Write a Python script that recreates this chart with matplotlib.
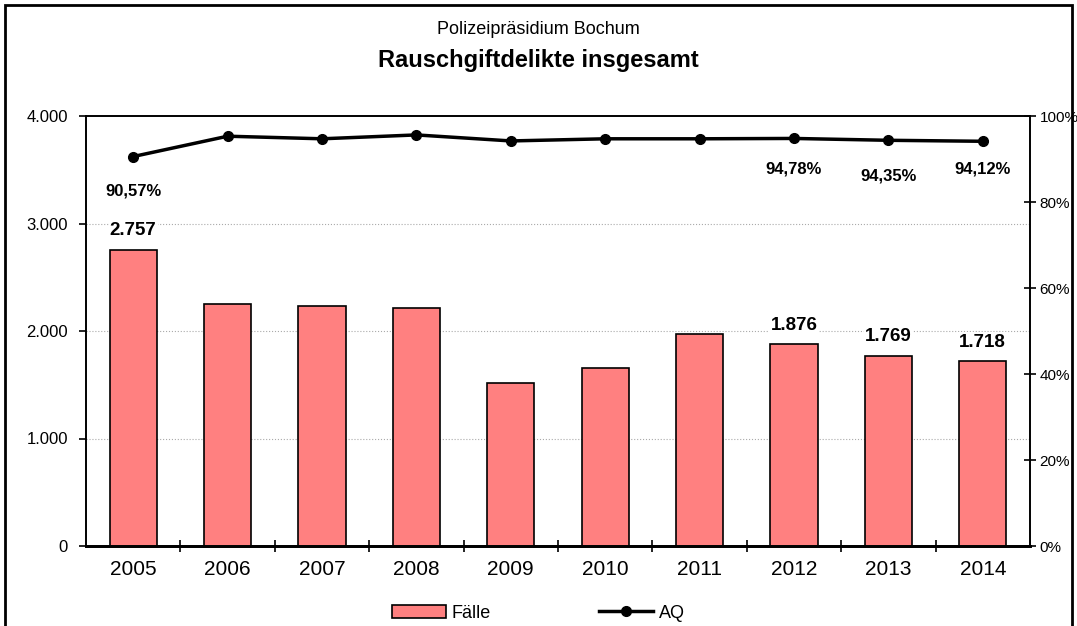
import matplotlib.pyplot as plt
import numpy as np
from matplotlib.patches import Rectangle
from matplotlib.lines import Line2D
from matplotlib.patches import Patch

plt.rcParams['font.family'] = ['Liberation Sans', 'DejaVu Sans']

years = ['2005', '2006', '2007', '2008', '2009', '2010', '2011', '2012', '2013', '2014']
faelle = [2757, 2251, 2233, 2214, 1516, 1656, 1972, 1876, 1769, 1718]
aq = [90.57, 95.3, 94.7, 95.6, 94.2, 94.7, 94.7, 94.78, 94.35, 94.12]

# only some points carry labels in the original
aq_labels = {0: '90,57%', 7: '94,78%', 8: '94,35%', 9: '94,12%'}
faelle_labels = {0: '2.757', 7: '1.876', 8: '1.769', 9: '1.718'}

fig = plt.figure(figsize=(10.77, 6.26), dpi=100)
ax = fig.add_axes([86 / 1077, 80 / 626, 944 / 1077, 430 / 626])
ax2 = ax.twinx()

x = np.arange(len(years))
ax.bar(x, faelle, width=0.5, color='#FF8080', edgecolor='black', linewidth=1.2, zorder=3)
ax.set_xlim(-0.5, len(years) - 0.5)
ax.set_ylim(0, 4000)
ax.set_yticks([0, 1000, 2000, 3000, 4000])
ax.set_yticklabels(['0', '1.000', '2.000', '3.000', '4.000'], fontsize=12)
for yv in [1000, 2000, 3000]:
    ax.axhline(yv, color='#aaaaaa', linestyle=':', linewidth=0.8, zorder=1)

ax.set_xticks(x)
ax.set_xticklabels(years, fontsize=15)
ax.tick_params(axis='x', length=0, pad=10)
ax.set_xticks(np.arange(0.5, len(years) - 0.5, 1), minor=True)
ax.tick_params(axis='x', which='minor', length=8, direction='inout', width=1.2)
ax.tick_params(axis='y', length=5, width=1.2, direction='out', pad=8)
for s in ax.spines.values():
    s.set_linewidth(1.2)
ax.spines['bottom'].set_linewidth(2)

ax2.plot(x, aq, color='black', linewidth=2.5, marker='o', markersize=7, zorder=4)
ax2.set_ylim(0, 100)
ax2.set_yticks([0, 20, 40, 60, 80, 100])
ax2.set_yticklabels(['0%', '20%', '40%', '60%', '80%', '100%'], fontsize=11)
ax2.tick_params(axis='y', length=8, width=1.2, direction='inout', pad=3)
for s in ax2.spines.values():
    s.set_linewidth(1.2)
ax2.spines['bottom'].set_linewidth(2)

aq_offsets = {0: -8.0, 7: -7.0, 8: -8.3, 9: -6.5}
for i, lab in aq_labels.items():
    ax2.text(x[i], aq[i] + aq_offsets[i], lab, ha='center', va='center',
             fontsize=12, fontweight='bold', bbox=dict(facecolor='white', edgecolor='none', pad=1))

for i, lab in faelle_labels.items():
    ax.text(x[i], faelle[i] + 100, lab, ha='center', va='bottom',
            fontsize=13.5, fontweight='bold', zorder=5,
            bbox=dict(facecolor='white', edgecolor='none', pad=1))

fig.text(0.5, 1 - 30 / 626, 'Polizeipräsidium Bochum', ha='center', va='center', fontsize=13)
fig.text(0.5, 1 - 60 / 626, 'Rauschgiftdelikte insgesamt', ha='center', va='center',
         fontsize=17, fontweight='bold')

handles = [Patch(facecolor='#FF8080', edgecolor='black', linewidth=1.2, label='Fälle'),
           Line2D([0], [0], color='black', linewidth=2.5, marker='o', markersize=7, label='AQ')]
fig.legend(handles=handles, loc='center', bbox_to_anchor=(0.5, 1 - 613 / 626), ncol=2,
           frameon=False, fontsize=13, handlelength=3, columnspacing=6, handletextpad=0.3)

fig.patches.append(Rectangle((5 / 1077, -0.02), 1067 / 1077, 1 - 5 / 626 + 0.02,
                             transform=fig.transFigure, fill=False,
                             edgecolor='black', linewidth=2))

fig.savefig('out.png', dpi=100, facecolor='white')
